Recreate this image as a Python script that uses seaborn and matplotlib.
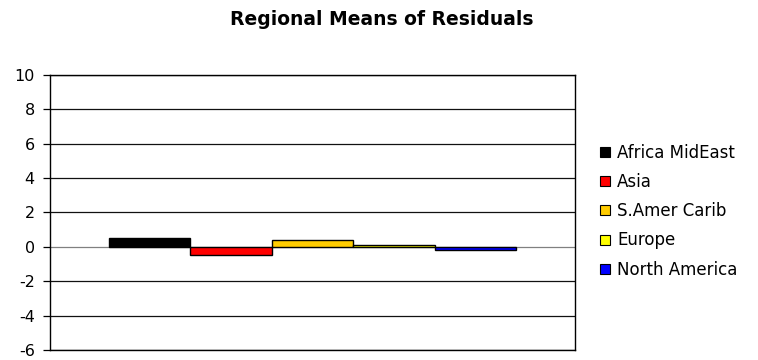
import matplotlib
matplotlib.use("Agg")
import matplotlib.pyplot as plt
import seaborn as sns
import pandas as pd
from matplotlib.patches import Patch

regions = ["Africa MidEast", "Asia", "S.Amer Carib", "Europe", "North America"]
means = [0.5, -0.5, 0.4, 0.08, -0.2]
colors = ["#000000", "#FF0000", "#FFCC00", "#FFFF00", "#0000FF"]
yticks = [-6, -4, -2, 0, 2, 4, 6, 8, 10]

df = pd.DataFrame({"group": ["all"] * len(regions), "region": regions, "mean": means})

sns.set_style("white")
plt.rcParams["font.family"] = ["DejaVu Sans"]
plt.rcParams["text.color"] = "black"
plt.rcParams["ytick.color"] = "black"
plt.rcParams["ytick.labelcolor"] = "black"

fig = plt.figure(figsize=(7.58, 3.6), dpi=100)
ax = fig.add_axes([0.066, 0.028, 0.6926, 0.764])

sns.barplot(data=df, x="group", y="mean", hue="region", hue_order=regions,
            palette=colors, saturation=1, width=0.776, edgecolor="black",
            linewidth=1.0, legend=False, ax=ax, zorder=3)

ax.set_ylim(-6, 10)
ax.set_xlim(-0.5, 0.5)
ax.set_yticks(yticks)
ax.set_yticklabels([str(t) for t in yticks], fontsize=11.5)
ax.set_xticks([])
ax.set_xlabel("")
ax.set_ylabel("")
for y in yticks:
    ax.axhline(y, color="#111111" if y != 0 else "#808080", lw=0.9, zorder=1)
for s in ax.spines.values():
    s.set_color("black")
    s.set_linewidth(1.0)
    s.set_visible(True)
ax.tick_params(axis="y", which="both", left=True, length=5, width=0.9,
               color="black", pad=6)

fig.text(0.503, 0.945, "Regional Means of Residuals", ha="center", va="center",
         fontsize=13.5, fontweight="bold", color="black")

handles = [Patch(facecolor=c, edgecolor="black", linewidth=0.8) for c in colors]
fig.legend(handles, regions, loc="center left", bbox_to_anchor=(0.792, 0.413),
           frameon=False, fontsize=12, handlelength=0.55, handleheight=0.55,
           handletextpad=0.45, labelspacing=0.67, borderaxespad=0, borderpad=0,
           labelcolor="black")

fig.savefig("out.png", dpi=100)
